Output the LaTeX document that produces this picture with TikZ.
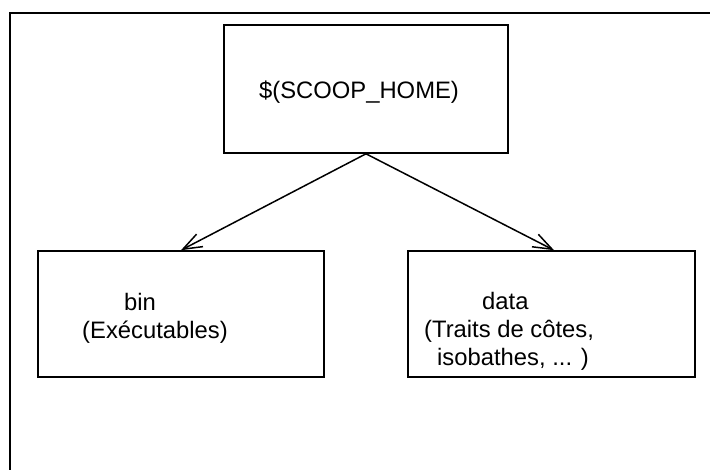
\documentclass[tikz,border=0pt]{standalone}
\usepackage{fontspec}
\setmainfont{Liberation Sans}
\usetikzlibrary{arrows.meta}
\begin{document}
\begin{tikzpicture}[x=1pt,y=-1pt,
  dirbox/.style={draw,line width=1.6pt,rectangle,inner sep=0pt},
  label/.style={inner sep=0pt,anchor=base west,font=\fontsize{23.8}{28}\selectfont},
  link/.style={line width=1.5pt,-{Straight Barb[length=19pt,width=14pt,line width=1.5pt]}}]
  \useasboundingbox (0,0) rectangle (710,470);
  % page frame (only its top and left edges fall inside the picture)
  \draw[line width=2.3pt] (10,480) -- (10,13) -- (720,13);
  % directory boxes
  \node[dirbox,minimum width=284pt,minimum height=128pt] (home) at (366,89) {};
  \node[dirbox,minimum width=286pt,minimum height=126pt] (bin)  at (181,314) {};
  \node[dirbox,minimum width=287pt,minimum height=126pt] (data) at (551.5,314) {};
  % box texts
  \node[label] (homet) at (259,99) {\$(SCOOP\_HOME)};
  \node[label] (bint1) at (124,311) {bin};
  \node[label] (bint2) at (82,339) {(Exécutables)};
  \node[label] (datat1) at (482,310) {data};
  \node[label] (datat2) at (424,338) {(Traits de côtes,};
  \node[label] (datat3) at (437,366) {isobathes, ... )};
  % links
  \draw[link] (home.south) -- (bin.north);
  \draw[link] (home.south) -- ([xshift=2.5pt]data.north);
\end{tikzpicture}
\end{document}
